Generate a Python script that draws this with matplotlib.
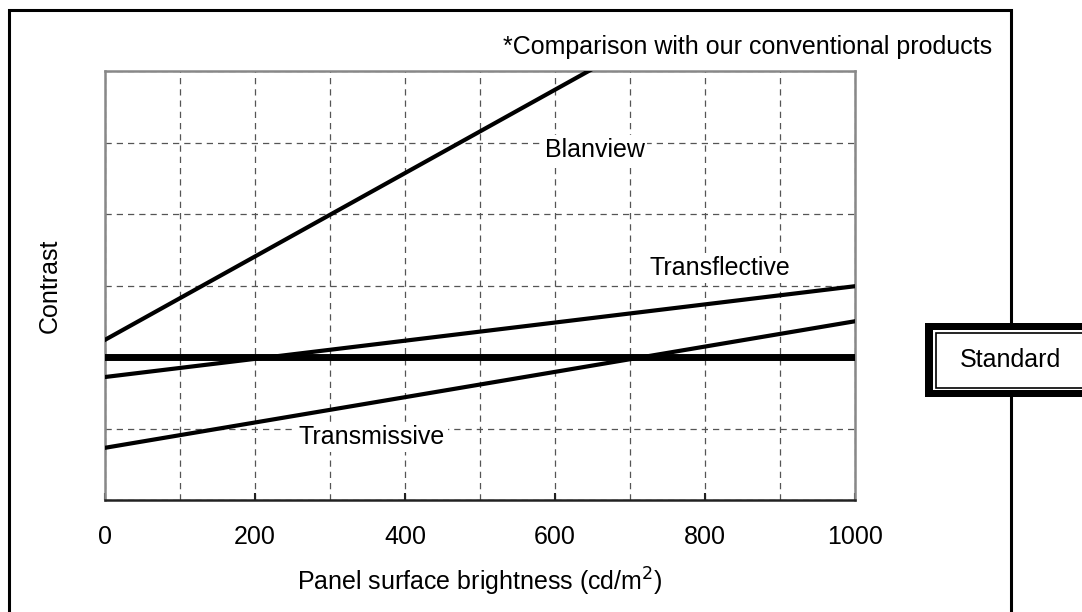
import matplotlib
matplotlib.use("Agg")
import matplotlib.pyplot as plt
from matplotlib.patches import Rectangle

plt.rcParams['font.family'] = ['Liberation Sans', 'DejaVu Sans']

# data (y in grid units 0..6)
brightness = [0, 1000]
blanview = [2.24, 8.07]
transflective = [1.72, 2.99]
transmissive = [0.73, 2.50]
standard = [2.0, 2.0]

x_ticks = [0, 200, 400, 600, 800, 1000]
x_grid = list(range(0, 1001, 100))
y_grid = [0, 1, 2, 3, 4, 5, 6]

FS = 18
W, H = 1082, 612
fig = plt.figure(figsize=(W / 100, H / 100), dpi=100)

def px(x, y):
    return x / W, 1 - y / H

# outer frame
fx0, fy0 = px(9, 650)
fx1, fy1 = px(1011, 10)
fig.add_artist(Rectangle((fx0, fy0), fx1 - fx0, fy1 - fy0, transform=fig.transFigure,
                         fill=False, edgecolor='black', linewidth=2.2))

ax = fig.add_axes([105 / W, 1 - 500 / H, 750 / W, 429 / H])
for xg in x_grid:
    ax.axvline(xg, color='#555555', linestyle=(0, (5, 4)), linewidth=0.9, zorder=1)
for yg in y_grid:
    ax.axhline(yg, color='#555555', linestyle=(0, (5, 4)), linewidth=0.9, zorder=1)

ax.plot(brightness, blanview, color='black', linewidth=3, zorder=3)
ax.plot(brightness, transflective, color='black', linewidth=3, zorder=3)
ax.plot(brightness, transmissive, color='black', linewidth=3, zorder=3)
ax.plot(brightness, standard, color='black', linewidth=5, zorder=3)

ax.set_xlim(0, 1000)
ax.set_ylim(0, 6)
ax.set_xticks(x_ticks)
ax.set_yticks([])
ax.tick_params(axis='x', direction='in', length=5, width=1.5, color='#222222',
               labelsize=FS, pad=18)
for side in ['left', 'top', 'right']:
    ax.spines[side].set_color('#888888')
    ax.spines[side].set_linewidth(1.8)
ax.spines['bottom'].set_color('#222222')
ax.spines['bottom'].set_linewidth(1.8)

lbl = dict(fontsize=FS, ha='center', va='center', zorder=2,
           bbox=dict(facecolor='white', edgecolor='none', pad=2))
ax.text(653, 4.9, 'Blanview', **lbl)
ax.text(820, 3.24, 'Transflective', **lbl)
ax.text(356, 0.88, 'Transmissive', **lbl)

ax.set_xlabel('Panel surface brightness (cd/m$^2$)', fontsize=FS, labelpad=12)
ax.set_ylabel('Contrast', fontsize=FS, labelpad=31)

tx, ty = px(992, 47)
fig.text(tx, ty, '*Comparison with our conventional products', fontsize=FS,
         ha='right', va='center')

# Standard box
def box(x0, y0, x1, y1, **kw):
    a, b = px(x0, y1)
    c, d = px(x1, y0)
    fig.add_artist(Rectangle((a, b), c - a, d - b, transform=fig.transFigure, **kw))

box(925, 323, 1100, 397, facecolor='black', edgecolor='none')
box(933, 330, 1100, 390, facecolor='white', edgecolor='none')
box(935.5, 332.5, 1100, 387.5, facecolor='white', edgecolor='black', linewidth=1.2)
sx, sy = px(1010, 360)
fig.text(sx, sy, 'Standard', fontsize=FS, ha='center', va='center')

fig.savefig('out.png', dpi=100)
